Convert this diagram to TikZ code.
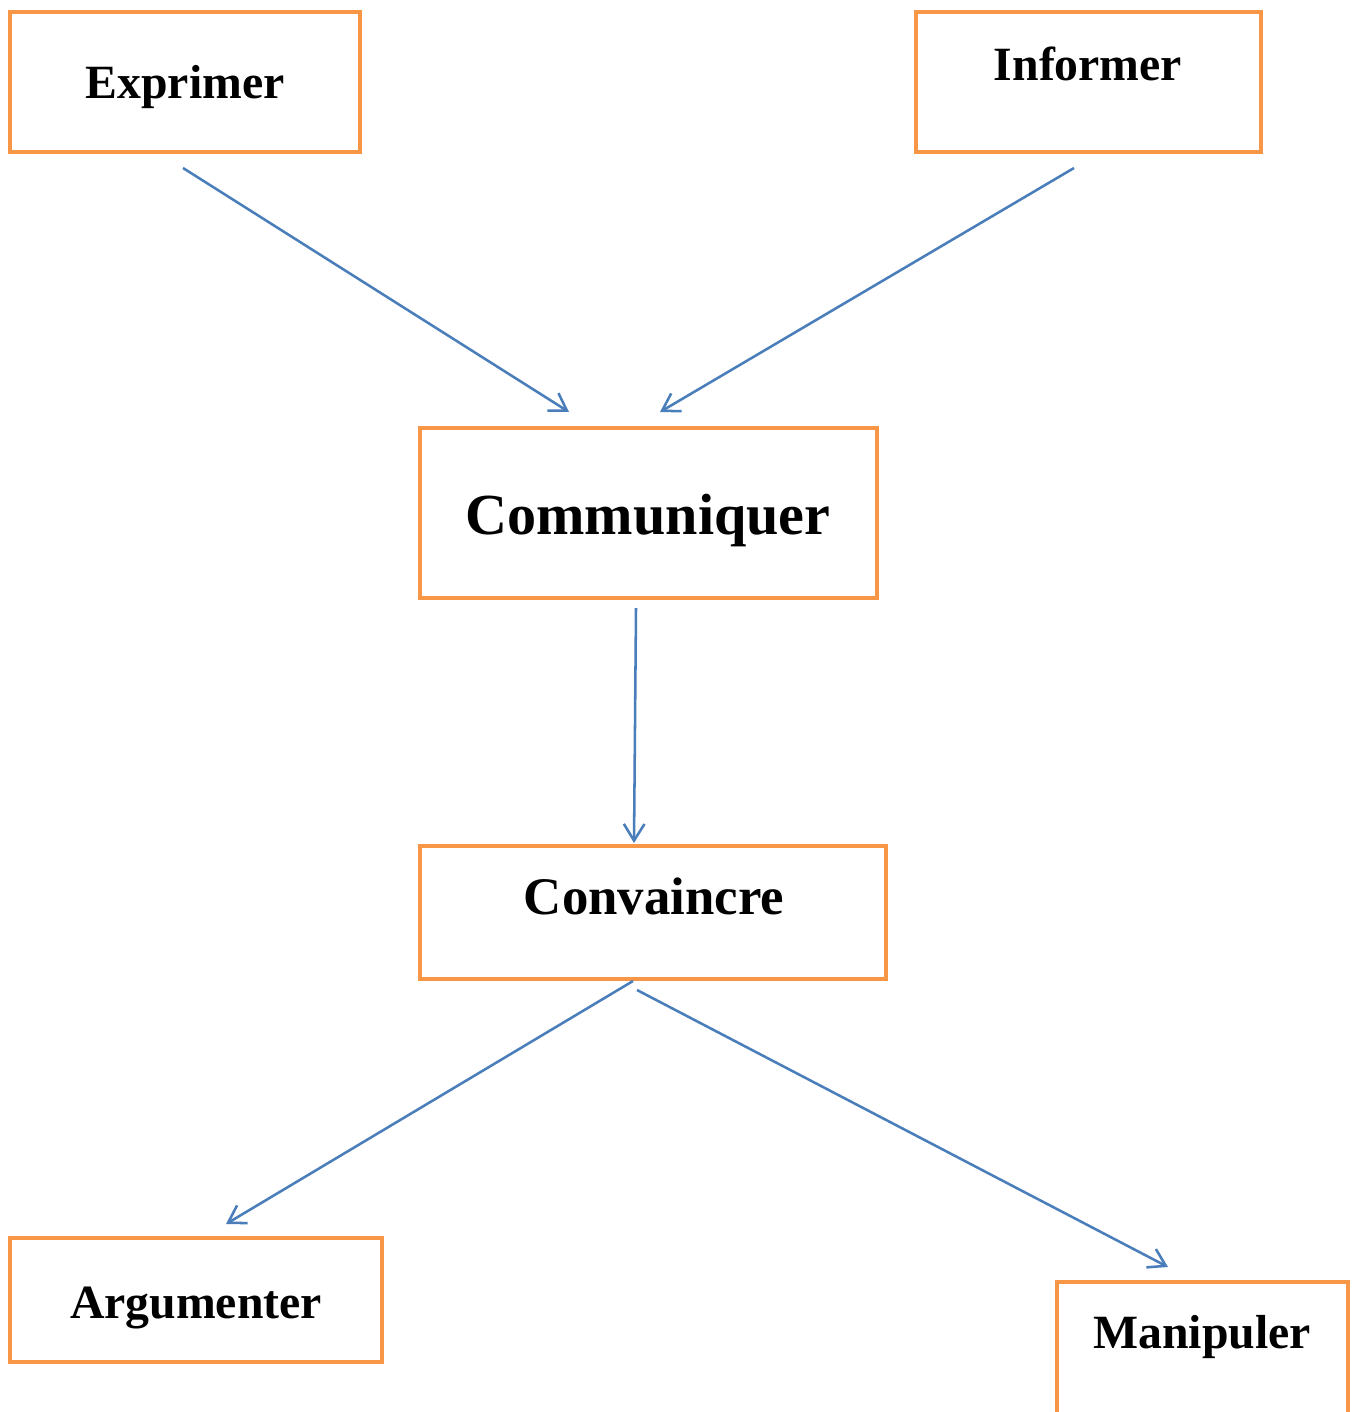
\documentclass[tikz,border=0pt]{standalone}
\usepackage{fontspec}
\setmainfont{Liberation Serif}
\usetikzlibrary{arrows.meta}
\definecolor{boxorange}{HTML}{F79646}
\definecolor{arrowblue}{HTML}{4A7EBB}
\begin{document}
\begin{tikzpicture}[x=0.75pt,y=-0.75pt,
  box/.style={draw=boxorange,line width=3pt,inner sep=0pt,fill=white},
  lbl/.style={anchor=base,font=\bfseries\fontsize{35.8pt}{40pt}\selectfont,inner sep=0pt},
  conn/.style={draw=arrowblue,line width=1.9pt,-{Straight Barb[length=12.5pt,width=15.5pt,line width=1.9pt]}}]
\useasboundingbox (0,0) rectangle (1356,1412);
\clip (0,0) rectangle (1356,1412);
\fill[white] (0,0) rectangle (1356,1412);
% boxes
\node[box,minimum width=262.5pt,minimum height=105pt] (exprimer) at (185,82) {};
\node[box,minimum width=258.75pt,minimum height=105pt] (informer) at (1088.5,82) {};
\node[box,minimum width=342.75pt,minimum height=127.5pt] (communiquer) at (648.5,513) {};
\node[box,minimum width=349.5pt,minimum height=99.75pt] (convaincre) at (653,912.5) {};
\node[box,minimum width=279pt,minimum height=93pt] (argumenter) at (196,1300) {};
\node[box,minimum width=218.25pt,minimum height=118.5pt] (manipuler) at (1202.5,1361) {};
% labels
\node[lbl] (tExprimer) at (185,99) {Exprimer};
\node[lbl] (tInformer) at (1088,81) {Informer};
\node[lbl,font=\bfseries\fontsize{43.6pt}{48pt}\selectfont] (tCommuniquer) at (648,534) {Communiquer};
\node[lbl,font=\bfseries\fontsize{39.6pt}{44pt}\selectfont] (tConvaincre) at (654,914) {Convaincre};
\node[lbl] (tArgumenter) at (196,1318) {Argumenter};
\node[lbl] (tManipuler) at (1202,1348) {Manipuler};
% connector end points
\coordinate (e1s) at (183,168);  \coordinate (e1e) at (569,412);
\coordinate (e2s) at (1074,168); \coordinate (e2e) at (660,412);
\coordinate (e3s) at (636,608);  \coordinate (e3e) at (634,843);
\coordinate (e4s) at (633,981);  \coordinate (e4e) at (226,1224);
\coordinate (e5s) at (637,990);  \coordinate (e5e) at (1168,1267);
\draw[conn] (e1s) -- (e1e);
\draw[conn] (e2s) -- (e2e);
\draw[conn] (e3s) -- (e3e);
\draw[conn] (e4s) -- (e4e);
\draw[conn] (e5s) -- (e5e);
\end{tikzpicture}
\end{document}
